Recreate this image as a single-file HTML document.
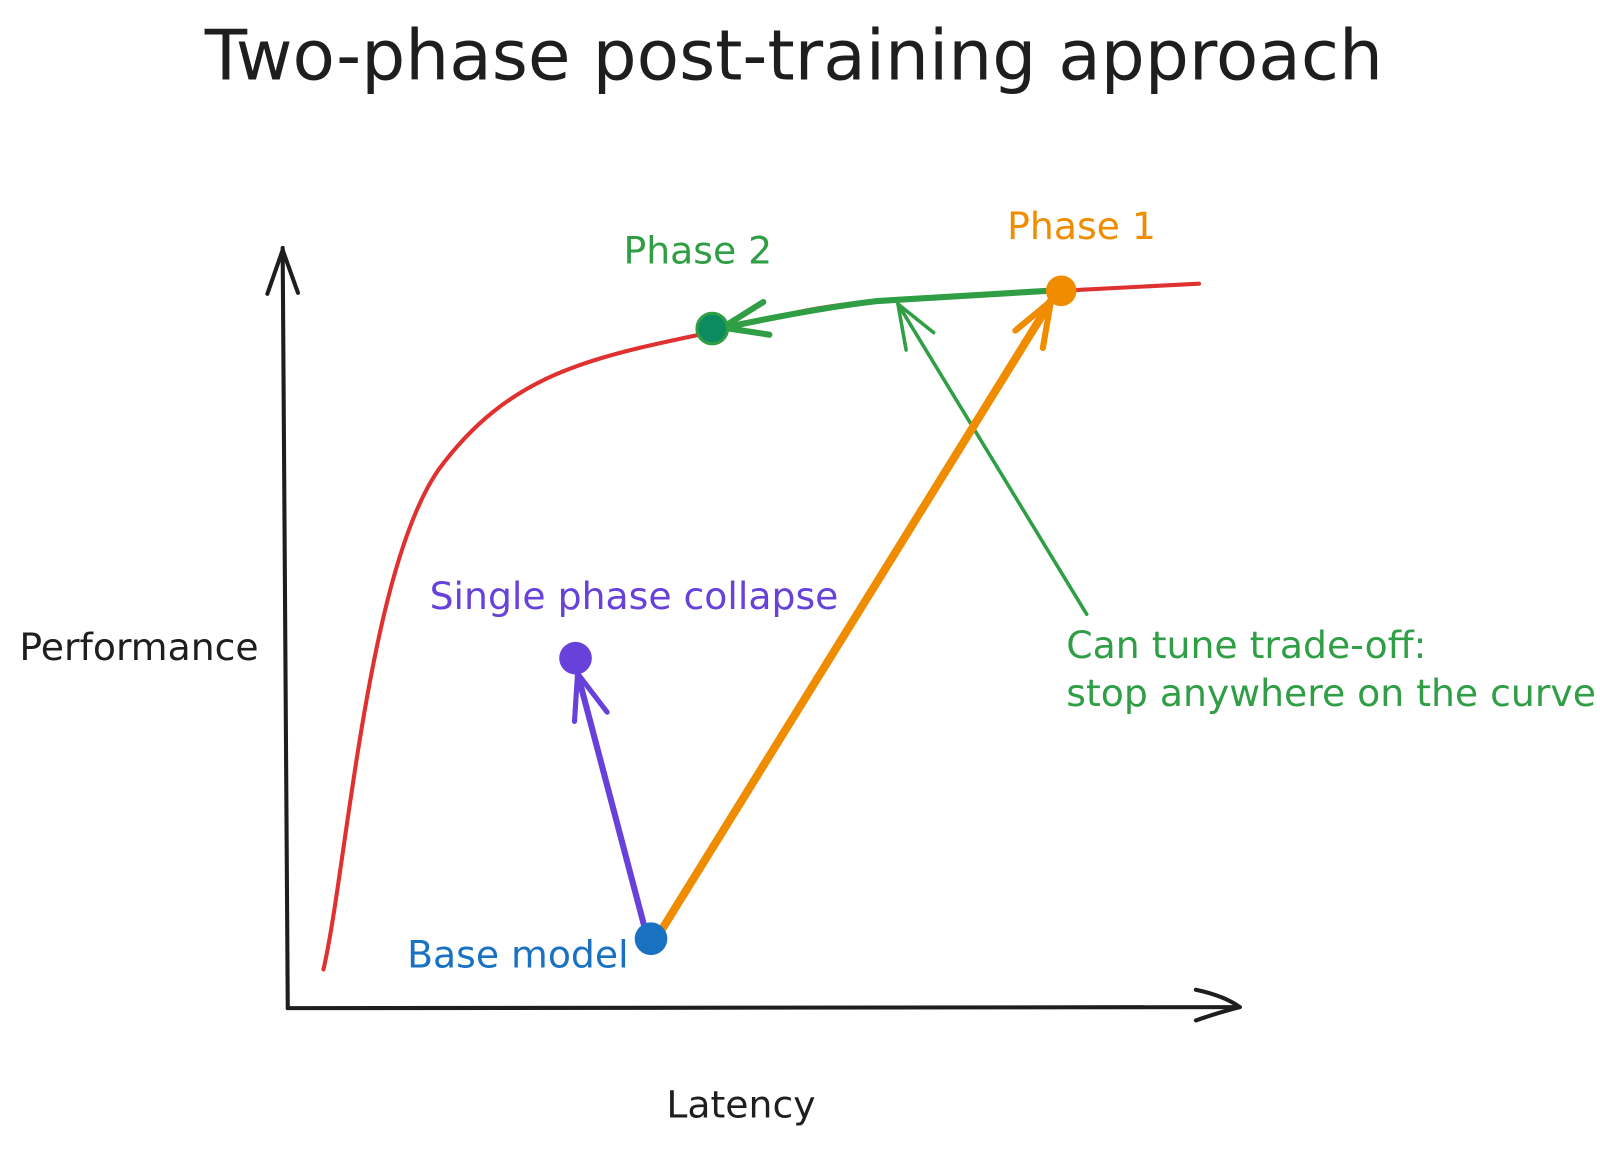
<!DOCTYPE html>
<html><head><meta charset="utf-8"><style>
html,body{margin:0;padding:0;background:#fff;}
svg{display:block;}
text{font-family:"DejaVu Sans","Liberation Sans",sans-serif;}
</style></head><body>
<svg width="1600" height="1151" viewBox="0 0 1568 1128" xmlns="http://www.w3.org/2000/svg">
<text x="778" y="78" text-anchor="middle" font-size="68" fill="#1e1e1e">Two-phase post-training approach</text>
<g stroke="#1e1e1e" stroke-width="4" fill="none" stroke-linecap="round" stroke-linejoin="round">
<path d="M277,243 L282,988"/>
<path d="M262,288 L277,245 L292,287"/>
<path d="M282,988 L1215,987"/>
<path d="M1172,970 Q1200,976 1215,987 Q1195,992 1172,1000"/>
</g>
<path d="M317,950 C340,850 360,560 430,460 C500,365 580,350 700,325 C780,305 820,296 900,292 L1040,285 L1175,278" stroke="#e03131" stroke-width="4" fill="none" stroke-linecap="round"/>
<g fill="none" stroke-linecap="round" stroke-linejoin="round">
<path d="M1027,285 L860,295 Q800,302 705,322" stroke="#2f9e44" stroke-width="6"/>
<path d="M748,296 L708,321 L754,328" stroke="#2f9e44" stroke-width="6"/>
<path d="M1065,602 L880,298" stroke="#2f9e44" stroke-width="3.5"/>
<path d="M888,343 L880,298 L915,326" stroke="#2f9e44" stroke-width="3.5"/>
<path d="M648,912 L1030,295" stroke="#f08c00" stroke-width="8"/>
<path d="M995,324 L1030,295 L1022,341" stroke="#f08c00" stroke-width="6"/>
<path d="M632,910 L566,660" stroke="#6741d9" stroke-width="6"/>
<path d="M563,707 L566,660 L595,698" stroke="#6741d9" stroke-width="5"/>
</g>
<circle cx="698" cy="322" r="15" fill="#0c8a60" stroke="#2f9e44" stroke-width="3"/>
<circle cx="1040" cy="285" r="15" fill="#f08c00"/>
<circle cx="638" cy="920" r="16" fill="#1971c2"/>
<circle cx="564" cy="645" r="16" fill="#6741d9"/>
<text x="611" y="258" font-size="37" fill="#2f9e44">Phase 2</text>
<text x="987" y="234" font-size="37" fill="#f08c00">Phase 1</text>
<text x="421" y="597" font-size="37" fill="#6741d9">Single phase collapse</text>
<text x="399" y="948" font-size="37" fill="#1971c2">Base model</text>
<text x="1045" y="645" font-size="37" fill="#2f9e44">Can tune trade-off:</text>
<text x="1045" y="692" font-size="37" fill="#2f9e44">stop anywhere on the curve</text>
<text x="19" y="647" font-size="37" fill="#1e1e1e">Performance</text>
<text x="653" y="1095" font-size="37" fill="#1e1e1e">Latency</text>
</svg>
</body></html>
